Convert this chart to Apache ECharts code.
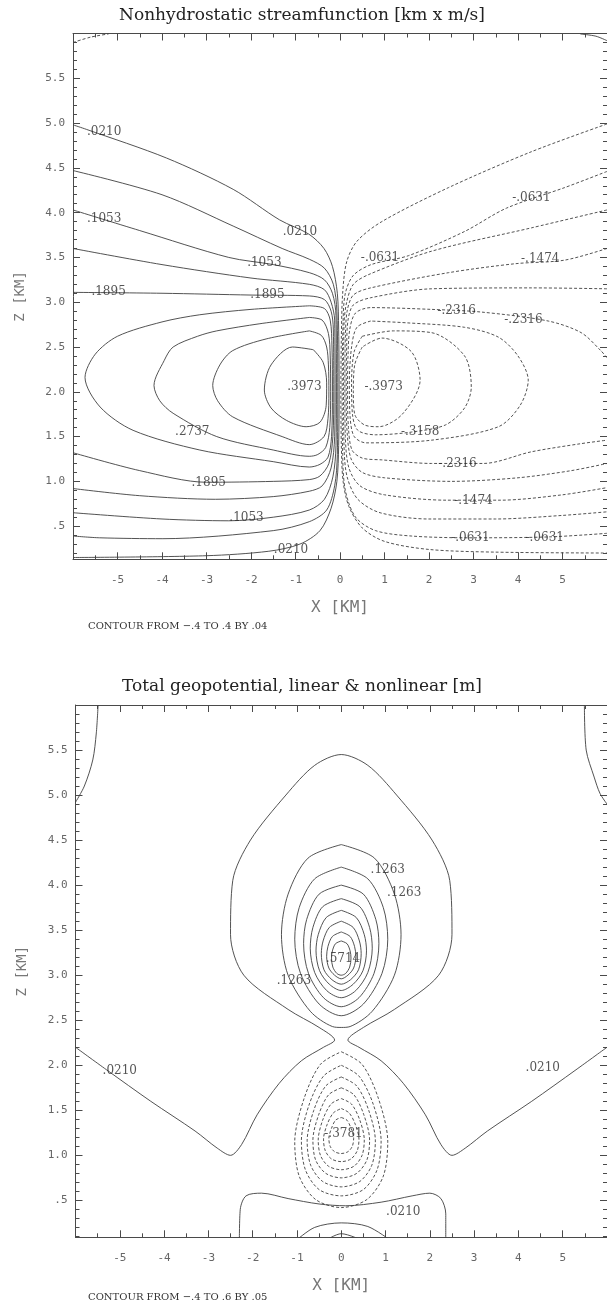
<!DOCTYPE html>
<html>
<head>
<meta charset="utf-8">
<script src="https://cdn.jsdelivr.net/npm/echarts@6/dist/echarts.min.js"></script>
<style>
  html, body { margin: 0; padding: 0; background: #fff; }
  #chart { width: 607px; height: 1304px; }
</style>
</head>
<body>
<div id="chart"></div>
<script>
// ---------- axis ticks ----------
const X_MAJOR = [-6, -5, -4, -3, -2, -1, 0, 1, 2, 3, 4, 5, 6];
const X_LABELS = [-5, -4, -3, -2, -1, 0, 1, 2, 3, 4, 5];
const X_MINOR = [-5.5, -4.5, -3.5, -2.5, -1.5, -0.5, 0.5, 1.5, 2.5, 3.5, 4.5, 5.5];
const Z_LABELS = [0.5, 1.0, 1.5, 2.0, 2.5, 3.0, 3.5, 4.0, 4.5, 5.0, 5.5];

// ---------- streamfunction contours [x km, z km] ----------
// positive levels (solid)
const psiP0210 = [[-6,4.98],[-5.7,4.93],[-3.9,4.61],[-2.4,4.26],[-1.36,3.92],[-0.7,3.76],[-0.36,3.6],[-0.17,3.4],[-0.06,3.1],[-0.03,2.7],[-0.02,2.0],[-0.03,1.4],[-0.07,1.0],[-0.2,0.7],[-0.45,0.45],[-0.9,0.3],[-1.6,0.22],[-3,0.17],[-6,0.15]];
const psiP0631 = [[-6,4.47],[-4,4.2],[-2.4,3.85],[-1.3,3.6],[-0.69,3.48],[-0.35,3.38],[-0.15,3.2],[-0.07,2.9],[-0.05,2.0],[-0.06,1.3],[-0.12,0.95],[-0.3,0.68],[-0.69,0.55],[-1.5,0.45],[-3.98,0.36],[-5.4,0.37],[-6,0.39]];
const psiP1053 = [[-6,4.03],[-4.5,3.8],[-2.5,3.5],[-1.5,3.42],[-0.69,3.33],[-0.35,3.25],[-0.17,3.1],[-0.09,2.85],[-0.08,2.0],[-0.09,1.4],[-0.16,1.05],[-0.35,0.8],[-0.69,0.68],[-1.5,0.6],[-2.5,0.56],[-4,0.58],[-6,0.65]];
const psiP1474 = [[-6,3.6],[-4,3.42],[-2,3.27],[-0.69,3.2],[-0.35,3.14],[-0.2,3.0],[-0.12,2.8],[-0.11,2.0],[-0.12,1.5],[-0.2,1.15],[-0.4,0.95],[-0.69,0.89],[-1.5,0.83],[-2.8,0.8],[-4.5,0.84],[-6,0.92]];
const psiP1895 = [[-6,3.11],[-4,3.1],[-2,3.08],[-0.69,3.07],[-0.35,3.03],[-0.2,2.9],[-0.15,2.7],[-0.14,2.0],[-0.16,1.5],[-0.25,1.2],[-0.45,1.06],[-0.69,1.02],[-1.5,1.0],[-3,0.99],[-4.5,1.12],[-6,1.32]];
const psiP2316 = [[-0.69,2.96],[-0.35,2.93],[-0.22,2.8],[-0.18,2.5],[-0.17,2.0],[-0.19,1.5],[-0.27,1.27],[-0.45,1.19],[-0.69,1.16],[-1.5,1.22],[-3.15,1.35],[-4.65,1.57],[-5.39,1.83],[-5.73,2.16],[-5.5,2.42],[-5.0,2.62],[-4,2.78],[-3.15,2.86],[-2,2.92],[-0.69,2.96]];
const psiP2737 = [[-0.69,2.83],[-0.4,2.8],[-0.26,2.65],[-0.22,2.4],[-0.21,2.0],[-0.23,1.6],[-0.32,1.38],[-0.5,1.3],[-0.69,1.28],[-1.5,1.35],[-2.77,1.5],[-3.75,1.76],[-4.05,1.9],[-4.18,2.07],[-3.95,2.35],[-3.75,2.5],[-3.2,2.62],[-2.77,2.68],[-1.8,2.76],[-0.69,2.83]];
const psiP3158 = [[-0.69,2.68],[-0.42,2.63],[-0.3,2.5],[-0.26,2.3],[-0.25,2.0],[-0.27,1.7],[-0.36,1.5],[-0.69,1.41],[-1.3,1.5],[-2.41,1.72],[-2.75,1.9],[-2.86,2.07],[-2.7,2.3],[-2.41,2.46],[-1.66,2.59],[-0.69,2.68]];
const psiP3579 = [[-0.6,2.47],[-0.38,2.33],[-0.3,2.1],[-0.31,1.85],[-0.45,1.66],[-0.76,1.61],[-1.2,1.68],[-1.55,1.82],[-1.7,2.02],[-1.55,2.3],[-1.07,2.5],[-0.6,2.47]];
const psiCornerL = [[-6,5.9],[-5.6,5.96],[-5.2,5.995]];
// negative levels (dashed)
const psiN0210 = [[6,4.99],[4.3,4.68],[2.44,4.28],[0.94,3.9],[0.38,3.68],[0.15,3.45],[0.06,3.1],[0.03,2.6],[0.02,2.0],[0.03,1.4],[0.07,1.0],[0.2,0.72],[0.5,0.48],[1.0,0.33],[2.0,0.24],[3.5,0.21],[6,0.2]];
const psiN0631 = [[6,4.46],[5.05,4.28],[3.74,4.05],[2.8,3.79],[1.54,3.52],[0.7,3.42],[0.3,3.3],[0.12,3.1],[0.07,2.8],[0.05,2.0],[0.06,1.3],[0.12,0.9],[0.35,0.6],[0.8,0.45],[1.6,0.39],[2.9,0.37],[4.7,0.38],[6,0.42]];
const psiN1053 = [[6,4.03],[4.3,3.83],[2.06,3.57],[0.65,3.31],[0.3,3.2],[0.15,3.0],[0.09,2.75],[0.08,2.0],[0.09,1.4],[0.16,1.05],[0.4,0.8],[0.9,0.65],[2,0.58],[3.5,0.58],[5,0.62],[6,0.66]];
const psiN1474 = [[6,3.6],[5.05,3.47],[3.94,3.43],[2.44,3.33],[0.69,3.16],[0.3,3.08],[0.16,2.9],[0.12,2.6],[0.11,2.0],[0.12,1.5],[0.2,1.15],[0.45,0.95],[1.0,0.85],[2.4,0.79],[3.6,0.79],[5,0.85],[6,0.93]];
const psiN1895 = [[6,3.15],[4.3,3.16],[2.06,3.15],[0.69,3.05],[0.3,2.97],[0.18,2.8],[0.15,2.5],[0.14,2.0],[0.16,1.55],[0.25,1.25],[0.5,1.1],[1.0,1.04],[2.5,1.0],[4,1.04],[5.2,1.12],[6,1.2]];
const psiN2316 = [[6,2.38],[5.86,2.46],[5.42,2.66],[4.68,2.79],[3.18,2.89],[2.06,2.92],[0.69,2.94],[0.35,2.88],[0.22,2.7],[0.18,2.4],[0.17,2.0],[0.19,1.6],[0.27,1.35],[0.5,1.26],[0.94,1.24],[2.06,1.2],[3.22,1.2],[4.3,1.33],[5.4,1.42],[6,1.46]];
const psiN2737 = [[0.69,2.79],[0.38,2.72],[0.26,2.5],[0.21,2.1],[0.23,1.7],[0.32,1.5],[0.58,1.43],[2.06,1.46],[3.56,1.61],[4.05,1.85],[4.23,2.13],[4.0,2.4],[3.56,2.61],[2.8,2.72],[1.5,2.77],[0.69,2.79]];
const psiN3158 = [[0.5,2.62],[0.32,2.45],[0.26,2.1],[0.28,1.75],[0.4,1.57],[0.8,1.52],[1.6,1.55],[2.37,1.63],[2.8,1.82],[2.95,2.05],[2.8,2.4],[2.06,2.66],[1.2,2.68],[0.5,2.62]];
const psiN3579 = [[0.5,2.5],[0.33,2.3],[0.3,2.0],[0.33,1.75],[0.55,1.63],[0.87,1.61],[1.4,1.75],[1.8,2.13],[1.6,2.45],[0.94,2.6],[0.5,2.5]];
const psiCornerR = [[5.4,5.995],[5.75,5.97],[6,5.92]];

// contour labels: [text, x, z]
const psiLabels = [
  ['.0210', -5.3, 4.9], ['.0210', -0.9, 3.79], ['.1053', -5.3, 3.93], ['.1053', -1.7, 3.44],
  ['.1895', -5.2, 3.12], ['.1895', -1.63, 3.08], ['.3973', -0.8, 2.05], ['.2737', -3.32, 1.55],
  ['.1895', -2.95, 0.98], ['.1053', -2.1, 0.59], ['.0210', -1.1, 0.24],
  ['-.0631', 0.9, 3.5], ['-.0631', 4.3, 4.16], ['-.1474', 4.5, 3.48], ['-.2316', 2.62, 2.9],
  ['-.2316', 4.12, 2.8], ['-.3973', 0.98, 2.05], ['-.3158', 1.8, 1.55], ['-.2316', 2.64, 1.19],
  ['-.1474', 3.0, 0.78], ['-.0631', 2.93, 0.37], ['-.0631', 4.6, 0.37]
];

// ---------- geopotential contours [x km, z km] ----------
const phiOuter = [[-6,2.2],[-5.3,1.95],[-4.3,1.6],[-3.3,1.27],[-2.8,1.08],[-2.5,1.0],[-2.25,1.12],[-1.9,1.45],[-1.4,1.8],[-0.9,2.05],[-0.4,2.2],[-0.15,2.28],[-0.5,2.42],[-1.2,2.62],[-2.2,3.0],[-2.5,3.45],[-2.45,4.05],[-2.05,4.5],[-1.25,5.0],[-0.6,5.33],[0,5.45],[0.6,5.33],[1.25,5.0],[2.05,4.5],[2.45,4.05],[2.5,3.45],[2.2,3.0],[1.2,2.62],[0.5,2.42],[0.15,2.28],[0.4,2.2],[0.9,2.05],[1.4,1.8],[1.9,1.45],[2.25,1.12],[2.5,1.0],[2.8,1.08],[3.3,1.27],[4.3,1.6],[5.3,1.95],[6,2.2]];
const phiCornerL = [[-5.49,6.0],[-5.53,5.69],[-5.61,5.39],[-5.8,5.1],[-6,4.92]];
const phiCornerR = [[5.49,6.0],[5.53,5.5],[5.71,5.2],[5.84,5.02],[6,4.9]];
const phiT1 = [[0,4.45],[0.75,4.3],[1.2,3.9],[1.35,3.45],[1.2,3.0],[0.7,2.6],[0.2,2.43],[0,2.42],[-0.2,2.43],[-0.7,2.6],[-1.2,3.0],[-1.35,3.45],[-1.2,3.9],[-0.75,4.3],[0,4.45]];
const phiT2 = [[0,4.2],[0.6,4.07],[0.95,3.75],[1.05,3.4],[0.92,3.02],[0.5,2.68],[0,2.55],[-0.5,2.68],[-0.92,3.02],[-1.05,3.4],[-0.95,3.75],[-0.6,4.07],[0,4.2]];
const phiT3 = [[0,4.0],[0.5,3.9],[0.78,3.62],[0.85,3.35],[0.74,3.02],[0.4,2.75],[0,2.65],[-0.4,2.75],[-0.74,3.02],[-0.85,3.35],[-0.78,3.62],[-0.5,3.9],[0,4.0]];
const phiT4 = [[0,3.85],[0.42,3.76],[0.64,3.53],[0.7,3.3],[0.6,3.03],[0.33,2.83],[0,2.75],[-0.33,2.83],[-0.6,3.03],[-0.7,3.3],[-0.64,3.53],[-0.42,3.76],[0,3.85]];
const phiT5 = [[0,3.72],[0.34,3.64],[0.52,3.45],[0.57,3.27],[0.49,3.05],[0.27,2.9],[0,2.83],[-0.27,2.9],[-0.49,3.05],[-0.57,3.27],[-0.52,3.45],[-0.34,3.64],[0,3.72]];
const phiT6 = [[0,3.6],[0.27,3.53],[0.41,3.38],[0.45,3.24],[0.39,3.06],[0.21,2.95],[0,2.9],[-0.21,2.95],[-0.39,3.06],[-0.45,3.24],[-0.41,3.38],[-0.27,3.53],[0,3.6]];
const phiT7 = [[0,3.48],[0.2,3.43],[0.3,3.32],[0.33,3.21],[0.28,3.08],[0.15,3.0],[0,2.96],[-0.15,3.0],[-0.28,3.08],[-0.33,3.21],[-0.3,3.32],[-0.2,3.43],[0,3.48]];
const phiT8 = [[0,3.38],[0.13,3.35],[0.2,3.27],[0.22,3.19],[0.19,3.09],[0.1,3.02],[0,3.0],[-0.1,3.02],[-0.19,3.09],[-0.22,3.19],[-0.2,3.27],[-0.13,3.35],[0,3.38]];
const phiB1 = [[-2.3,0.05],[-2.28,0.4],[-2.15,0.55],[-1.8,0.58],[-1.2,0.52],[-0.5,0.46],[0.1,0.44],[0.9,0.48],[1.6,0.55],[2.0,0.58],[2.25,0.52],[2.36,0.35],[2.36,0.05]];
const phiB2 = [[-1.03,0.05],[-0.6,0.2],[0,0.25],[0.6,0.21],[1.13,0.05]];
const phiB3 = [[-0.37,0.05],[0,0.13],[0.5,0.05]];
// negative levels (dashed)
const phiD1 = [[0,2.15],[0.47,2.01],[0.84,1.63],[1.05,1.15],[0.95,0.77],[0.58,0.51],[0,0.42],[-0.58,0.51],[-0.95,0.77],[-1.05,1.15],[-0.84,1.63],[-0.47,2.01],[0,2.15]];
const phiD2 = [[0,2.0],[0.4,1.88],[0.72,1.57],[0.9,1.16],[0.81,0.84],[0.5,0.62],[0,0.55],[-0.5,0.62],[-0.81,0.84],[-0.9,1.16],[-0.72,1.57],[-0.4,1.88],[0,2.0]];
const phiD3 = [[0,1.87],[0.35,1.77],[0.62,1.5],[0.77,1.16],[0.69,0.89],[0.42,0.71],[0,0.65],[-0.42,0.71],[-0.69,0.89],[-0.77,1.16],[-0.62,1.5],[-0.35,1.77],[0,1.87]];
const phiD4 = [[0,1.75],[0.29,1.67],[0.51,1.45],[0.64,1.17],[0.58,0.95],[0.35,0.8],[0,0.75],[-0.35,0.8],[-0.58,0.95],[-0.64,1.17],[-0.51,1.45],[-0.29,1.67],[0,1.75]];
const phiD5 = [[0,1.63],[0.23,1.57],[0.42,1.39],[0.52,1.17],[0.47,1.0],[0.29,0.88],[0,0.84],[-0.29,0.88],[-0.47,1.0],[-0.52,1.17],[-0.42,1.39],[-0.23,1.57],[0,1.63]];
const phiD6 = [[0,1.52],[0.18,1.47],[0.32,1.34],[0.4,1.18],[0.36,1.05],[0.22,0.96],[0,0.93],[-0.22,0.96],[-0.36,1.05],[-0.4,1.18],[-0.32,1.34],[-0.18,1.47],[0,1.52]];
const phiD7 = [[0,1.42],[0.13,1.39],[0.22,1.3],[0.28,1.19],[0.25,1.1],[0.15,1.04],[0,1.02],[-0.15,1.04],[-0.25,1.1],[-0.28,1.19],[-0.22,1.3],[-0.13,1.39],[0,1.42]];

const phiLabels = [
  ['.0210', -5.0, 1.94], ['.0210', 4.55, 1.97], ['.0210', 1.4, 0.37],
  ['.1263', 1.05, 4.17], ['.1263', 1.42, 3.91], ['.1263', -1.07, 2.94],
  ['.5714', 0.04, 3.18], ['-.3781', 0.05, 1.24]
];

// ---------- layout of the two panels ----------
const panels = [
  { left: 73, top: 33.5, width: 536.4, height: 525.8, zMin: 0.13, zMax: 6,
    title: 'Nonhydrostatic streamfunction [km x m/s]', titleY: 16,
    note: 'CONTOUR FROM \u2212.4 TO .4 BY .04', noteY: 626,
    solid: [psiP0210, psiP0631, psiP1053, psiP1474, psiP1895, psiP2316, psiP2737, psiP3158, psiP3579, psiCornerR],
    dashed: [psiN0210, psiN0631, psiN1053, psiN1474, psiN1895, psiN2316, psiN2737, psiN3158, psiN3579, psiCornerL],
    labels: psiLabels },
  { left: 75.5, top: 705, width: 537.6, height: 532.3, zMin: 0.09, zMax: 6,
    title: 'Total geopotential, linear & nonlinear [m]', titleY: 687,
    note: 'CONTOUR FROM \u2212.4 TO .6 BY .05', noteY: 1297,
    solid: [phiOuter, phiCornerL, phiCornerR, phiT1, phiT2, phiT3, phiT4, phiT5, phiT6, phiT7, phiT8, phiB1, phiB2, phiB3],
    dashed: [phiD1, phiD2, phiD3, phiD4, phiD5, phiD6, phiD7],
    labels: phiLabels }
];

const FRAME = '#4a4a4a';
const TICKTXT = '#666';
const MONO = 'DejaVu Sans Mono';

const zMinor = [];
for (let i = 1; i < 60; i++) { if (i % 5 !== 0) zMinor.push(+(i / 10).toFixed(1)); }

const grid = [], xAxis = [], yAxis = [], series = [], graphic = [];

panels.forEach((p, k) => {
  const rect = { left: p.left, top: p.top, width: p.width, height: p.height, containLabel: false };
  // four overlaid grids: main (bottom/left), mirror (top/right), and the two minor-tick layers
  const layers = [
    { xPos: 'bottom', yPos: 'left', line: true, xt: X_MAJOR, yt: Z_LABELS, len: 7, labels: true },
    { xPos: 'top', yPos: 'right', line: true, xt: X_MAJOR, yt: Z_LABELS, len: 7, labels: false },
    { xPos: 'bottom', yPos: 'left', line: false, xt: X_MINOR, yt: zMinor, len: 4, labels: false },
    { xPos: 'top', yPos: 'right', line: false, xt: X_MINOR, yt: zMinor, len: 4, labels: false }
  ];
  layers.forEach((ly) => {
    const gi = grid.length;
    grid.push(Object.assign({}, rect));
    xAxis.push({
      type: 'value', gridIndex: gi, min: -6, max: 6, position: ly.xPos,
      axisLine: { show: ly.line, onZero: false, lineStyle: { color: FRAME, width: 1 } },
      axisTick: { show: true, inside: true, length: ly.len, customValues: ly.xt, lineStyle: { color: FRAME, width: 1 } },
      axisLabel: ly.labels ? {
        show: true, customValues: X_LABELS, margin: 15, fontFamily: MONO, fontSize: 11, color: TICKTXT,
        formatter: v => String(v)
      } : { show: false, customValues: ly.xt },
      splitLine: { show: false },
      name: ly.labels ? 'X [KM]' : '', nameLocation: 'middle', nameGap: 41,
      nameTextStyle: { fontFamily: MONO, fontSize: 16, color: '#777' }
    });
    yAxis.push({
      type: 'value', gridIndex: gi, min: p.zMin, max: p.zMax, position: ly.yPos,
      axisLine: { show: ly.line, onZero: false, lineStyle: { color: FRAME, width: 1 } },
      axisTick: { show: true, inside: true, length: ly.len, customValues: ly.yt, lineStyle: { color: FRAME, width: 1 } },
      axisLabel: ly.labels ? {
        show: true, customValues: Z_LABELS, margin: 8, fontFamily: MONO, fontSize: 11, color: TICKTXT,
        formatter: v => (v < 1 ? '.5' : v.toFixed(1))
      } : { show: false, customValues: ly.yt },
      splitLine: { show: false },
      name: ly.labels ? 'Z [KM]' : '', nameLocation: 'middle', nameGap: 46, nameRotate: 90,
      nameTextStyle: { fontFamily: MONO, fontSize: 14, color: '#777' }
    });
  });
  const ai = k * 4;
  const lineSeries = (pts, dashed) => ({
    type: 'line', xAxisIndex: ai, yAxisIndex: ai, data: pts, symbol: 'none', showSymbol: false,
    smooth: 0.3, silent: true, animation: false, clip: true, z: 3,
    lineStyle: { color: '#404040', width: 0.9, type: dashed ? [3, 2] : 'solid' }
  });
  p.solid.forEach(pts => series.push(lineSeries(pts, false)));
  p.dashed.forEach(pts => series.push(lineSeries(pts, true)));
  series.push({
    type: 'scatter', xAxisIndex: ai, yAxisIndex: ai, symbolSize: 1, silent: true, animation: false, z: 5,
    itemStyle: { color: 'rgba(0,0,0,0)' },
    data: p.labels.map(l => ({ name: l[0], value: [l[1], l[2]] })),
    label: { show: true, position: 'inside', formatter: q => q.name,
      fontFamily: 'DejaVu Serif', fontSize: 12, color: '#2a2a2a' }
  });
  graphic.push({
    type: 'text', x: 302, y: p.titleY,
    style: { text: p.title, font: '17px "DejaVu Serif"', fill: '#222', textAlign: 'center', textVerticalAlign: 'middle' }
  });
  graphic.push({
    type: 'text', x: 88, y: p.noteY,
    style: { text: p.note, font: '10px "DejaVu Serif"', fill: '#333', textAlign: 'left', textVerticalAlign: 'middle' }
  });
});

const chart = echarts.init(document.getElementById('chart'), null, { renderer: 'canvas' });
chart.setOption({
  backgroundColor: '#ffffff',
  animation: false,
  grid, xAxis, yAxis, series,
  graphic: { elements: graphic }
});
</script>
</body>
</html>
